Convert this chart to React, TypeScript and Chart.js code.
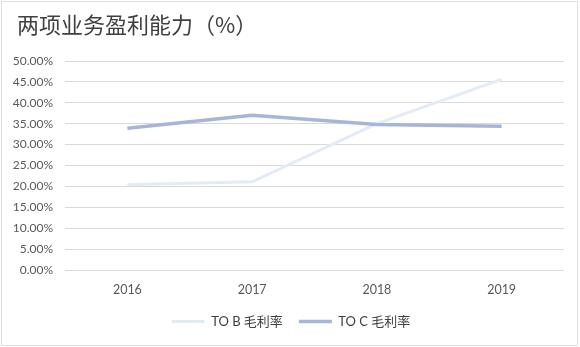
import React, { useEffect, useRef } from "react";
import { Chart, registerables } from "chart.js";

Chart.register(...registerables);

const years = ["2016", "2017", "2018", "2019"];
const toB = [20.4, 21.1, 35.0, 45.6];
const toC = [33.9, 37.0, 34.8, 34.4];
const yTicks = [0, 5, 10, 15, 20, 25, 30, 35, 40, 45, 50];
const seriesNames = ["TO B 毛利率", "TO C 毛利率"];
const title = "两项业务盈利能力（%）";

const FONT = "Lato, 'Noto Sans CJK SC', sans-serif";

const legendShift = {
  id: "legendShift",
  afterLayout(chart: any) {
    if (chart.legend) {
      chart.legend.left += 9;
      chart.legend.right += 9;
    }
  },
};

export default function App() {
  const ref = useRef<HTMLCanvasElement | null>(null);

  useEffect(() => {
    if (!ref.current) return;
    const chart = new Chart(ref.current, {
      type: "line",
      data: {
        labels: years,
        datasets: [
          {
            label: seriesNames[0],
            data: toB,
            borderColor: "#e2ebf6",
            backgroundColor: "#e2ebf6",
            borderWidth: 3,
            pointRadius: 0,
            tension: 0,
            order: 1,
          },
          {
            label: seriesNames[1],
            data: toC,
            borderColor: "#a6b5da",
            backgroundColor: "#a6b5da",
            borderWidth: 3.5,
            pointRadius: 0,
            tension: 0,
            order: 0,
          },
        ],
      },
      plugins: [legendShift],
      options: {
        responsive: false,
        animation: false,
        layout: { padding: { left: 0, right: 16, top: 61, bottom: 9 } },
        plugins: {
          title: { display: false },
          tooltip: { enabled: false },
          legend: {
            position: "bottom",
            labels: {
              usePointStyle: true,
              pointStyle: "line",
              pointStyleWidth: 33,
              boxHeight: 13,
              padding: 16,
              color: "#404040",
              font: { family: FONT, size: 13 },
              sort: (a: any, b: any) => a.datasetIndex - b.datasetIndex,
            },
          },
        },
        scales: {
          x: {
            type: "category",
            offset: true,
            grid: { display: false, drawTicks: false },
            border: { display: false },
            ticks: {
              color: "#595959",
              font: { family: FONT, size: 12.5 },
              padding: 12,
              maxRotation: 0,
            },
            afterFit: (s: any) => {
              s.height = 29;
            },
          },
          y: {
            min: yTicks[0],
            max: yTicks[yTicks.length - 1],
            afterBuildTicks: (s: any) => {
              s.ticks = yTicks.map((v) => ({ value: v }));
            },
            grid: { color: "#d9d9d9", lineWidth: 1, drawTicks: false },
            border: { display: false },
            ticks: {
              color: "#595959",
              font: { family: FONT, size: 12 },
              padding: 12,
              callback: (v: any) => Number(v).toFixed(2) + "%",
            },
            afterFit: (s: any) => {
              s.width = 65;
            },
          },
        },
      },
    });
    return () => chart.destroy();
  }, []);

  return (
    <div
      style={{
        position: "fixed",
        left: 0,
        top: 0,
        width: 580,
        height: 347,
        background: "#fff",
      }}
    >
      <canvas
        ref={ref}
        width={580}
        height={347}
        style={{ position: "absolute", left: 0, top: 0, width: 580, height: 347 }}
      />
      <div
        style={{
          position: "absolute",
          left: 17,
          top: 12,
          fontFamily: "'Noto Sans CJK SC', sans-serif",
          fontSize: 22,
          lineHeight: "22px",
          color: "#404040",
          whiteSpace: "nowrap",
        }}
      >
        {title}
      </div>
      <div
        style={{
          position: "absolute",
          left: 1,
          top: 1,
          width: 575,
          height: 343,
          border: "1px solid #e0e0e0",
          pointerEvents: "none",
        }}
      />
    </div>
  );
}
